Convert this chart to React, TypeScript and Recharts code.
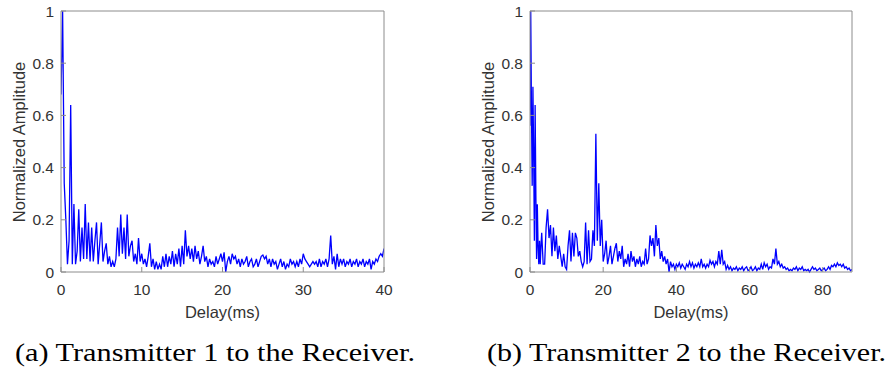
import { LineChart, Line, XAxis, YAxis } from "recharts";

// Panel (a): Transmitter 1, sampled every 0.2 ms from 0 to 40 ms
const stepA = 0.2;
const ampA = [
  0.68, 1.0, 0.34, 0.2, 0.03,
  0.12, 0.64, 0.03, 0.26, 0.03,
  0.08, 0.24, 0.04, 0.17, 0.05,
  0.26, 0.05, 0.19, 0.04, 0.17,
  0.04, 0.12, 0.19, 0.03, 0.11,
  0.19, 0.04, 0.08, 0.11, 0.03,
  0.06, 0.02, 0.04, 0.02, 0.05,
  0.17, 0.06, 0.22, 0.07, 0.17,
  0.05, 0.22, 0.06, 0.1, 0.12,
  0.04, 0.07, 0.03, 0.13, 0.04,
  0.07, 0.03, 0.05, 0.02, 0.06,
  0.11, 0.02, 0.05, 0.01, 0.04,
  0.01, 0.03, 0.01, 0.06, 0.02,
  0.07, 0.02, 0.06, 0.03, 0.08,
  0.02, 0.07, 0.03, 0.09, 0.02,
  0.1, 0.03, 0.16, 0.06, 0.1,
  0.05, 0.09, 0.04, 0.1, 0.05,
  0.08, 0.03, 0.06, 0.1, 0.04,
  0.06, 0.02, 0.05, 0.03, 0.04,
  0.02, 0.06, 0.03, 0.05, 0.07,
  0.04, 0.075, 0.0, 0.04, 0.06,
  0.03, 0.07, 0.05, 0.06, 0.03,
  0.05, 0.02, 0.05, 0.03, 0.04,
  0.06, 0.02, 0.04, 0.05, 0.02,
  0.03, 0.05, 0.02, 0.04, 0.06,
  0.065, 0.05, 0.06, 0.03, 0.05,
  0.02, 0.05, 0.03, 0.04, 0.01,
  0.03, 0.05, 0.02, 0.04, 0.01,
  0.03, 0.02, 0.05, 0.03, 0.04,
  0.02, 0.04, 0.02, 0.05, 0.03,
  0.07, 0.05, 0.04, 0.03, 0.02,
  0.03, 0.04, 0.03, 0.04, 0.02,
  0.05, 0.02, 0.04, 0.03, 0.05,
  0.02, 0.05, 0.14, 0.03, 0.06,
  0.01, 0.07, 0.02, 0.05, 0.03,
  0.05, 0.02, 0.04, 0.03, 0.05,
  0.02, 0.04, 0.03, 0.05, 0.02,
  0.04, 0.03, 0.05, 0.02, 0.04,
  0.03, 0.05, 0.01, 0.04, 0.03,
  0.05, 0.04, 0.06, 0.07, 0.06,
  0.09,
];

// Panel (b): Transmitter 2, fine head (0.2 ms) then 0.4 ms from 3.2 to 88 ms
const headStepB = 0.2;
const headB = [
  0.56, 1.0, 0.62, 0.33, 0.71, 0.45, 0.12, 0.64,
  0.3, 0.05, 0.26, 0.1, 0.03, 0.12, 0.03, 0.1,
];
const tailStartB = 3.2;
const tailStepB = 0.4;
const tailB = [
  0.15, 0.03, 0.03, 0.17, 0.24,
  0.13, 0.18, 0.06, 0.17, 0.08,
  0.14, 0.05, 0.1, 0.06, 0.02,
  0.07, 0.02, 0.01, 0.1, 0.16,
  0.04, 0.15, 0.06, 0.15, 0.13,
  0.06, 0.08, 0.04, 0.02, 0.04,
  0.19, 0.03, 0.16, 0.04, 0.05,
  0.16, 0.1, 0.53, 0.12, 0.34,
  0.1, 0.2, 0.04, 0.07, 0.12,
  0.03, 0.06, 0.1, 0.03, 0.06,
  0.09, 0.11, 0.04, 0.08, 0.05,
  0.1, 0.02, 0.05, 0.03, 0.07,
  0.02, 0.08, 0.04, 0.06, 0.02,
  0.05, 0.03, 0.06, 0.02, 0.04,
  0.03, 0.09, 0.03, 0.05, 0.14,
  0.1, 0.13, 0.06, 0.18, 0.1,
  0.13, 0.05, 0.08, 0.04, 0.06,
  0.03, 0.05, 0.0, 0.04, 0.02,
  0.03, 0.01, 0.03, 0.02, 0.035,
  0.015, 0.03, 0.02, 0.01, 0.03,
  0.02, 0.04, 0.02, 0.035, 0.015,
  0.03, 0.02, 0.035, 0.02, 0.05,
  0.02, 0.03, 0.015, 0.03, 0.02,
  0.045, 0.03, 0.04, 0.02, 0.04,
  0.03, 0.08, 0.03, 0.085, 0.03,
  0.04, 0.01, 0.025, 0.01, 0.02,
  0.005, 0.015, 0.01, 0.02, 0.005,
  0.015, 0.01, 0.02, 0.005, 0.015,
  0.02, 0.005, 0.01, 0.02, 0.005,
  0.01, 0.02, 0.005, 0.015, 0.01,
  0.03, 0.01, 0.035, 0.02, 0.03,
  0.01, 0.02, 0.015, 0.05, 0.03,
  0.09, 0.03, 0.04, 0.02, 0.03,
  0.015, 0.02, 0.01, 0.015, 0.005,
  0.01, 0.005, 0.015, 0.01, 0.02,
  0.005, 0.015, 0.01, 0.02, 0.005,
  0.01, 0.005, 0.01, 0.0, 0.01,
  0.02, 0.01, 0.015, 0.005, 0.01,
  0.015, 0.005, 0.01, 0.015, 0.005,
  0.01, 0.02, 0.01, 0.025, 0.02,
  0.03, 0.02, 0.035, 0.025, 0.03,
  0.02, 0.03, 0.015, 0.02, 0.01,
  0.015, 0.005, 0.01,
];

const ticksA = [0, 10, 20, 30, 40];
const ticksB = [0, 20, 40, 60, 80];
const ampTicks = [0, 0.2, 0.4, 0.6, 0.8, 1];

type Pt = { delay: number; amp: number };

function toSeries(amps: number[], start: number, step: number): Pt[] {
  return amps.map((amp, i) => ({
    delay: Math.round((start + i * step) * 1000) / 1000,
    amp,
  }));
}

const dataA = toSeries(ampA, 0, stepA);
const dataB = [
  ...toSeries(headB, 0, headStepB),
  ...toSeries(tailB, tailStartB, tailStepB),
];

const FRAME = "#8c8c8c";
const TEXT = "#333333";
const tickFont = { fill: TEXT, fontSize: 15.5, fontFamily: "'Liberation Sans', Arial, sans-serif" };

// plot box: top 11, bottom 272; left/right given per panel
function Panel({
  data,
  xMax,
  xTicks,
  plotLeft,
  plotRight,
}: {
  data: Pt[];
  xMax: number;
  xTicks: number[];
  plotLeft: number;
  plotRight: number;
}) {
  return (
    <LineChart
      width={445}
      height={300}
      data={data}
      margin={{ top: 10, right: 445 - plotRight - 1, bottom: 0, left: plotLeft - 40 }}
    >
      <XAxis
        xAxisId="bottom"
        dataKey="delay"
        type="number"
        domain={[0, xMax]}
        ticks={xTicks}
        height={28}
        tickSize={-5}
        tickMargin={17}
        tick={tickFont}
        stroke={FRAME}
        allowDataOverflow
      />
      <XAxis
        xAxisId="top"
        orientation="top"
        dataKey="delay"
        type="number"
        domain={[0, xMax]}
        ticks={xTicks}
        height={1}
        tickSize={-5}
        tick={false}
        stroke={FRAME}
        allowDataOverflow
      />
      <YAxis
        yAxisId="left"
        type="number"
        domain={[0, 1]}
        ticks={ampTicks}
        width={40}
        tickSize={-5}
        tickMargin={12}
        tick={tickFont}
        stroke={FRAME}
      />
      <YAxis
        yAxisId="right"
        orientation="right"
        type="number"
        domain={[0, 1]}
        ticks={ampTicks}
        width={1}
        tickSize={-5}
        tick={false}
        stroke={FRAME}
      />
      <Line
        xAxisId="bottom"
        yAxisId="left"
        type="linear"
        dataKey="amp"
        stroke="#0000ff"
        strokeWidth={1.3}
        dot={false}
        isAnimationActive={false}
      />
    </LineChart>
  );
}

export default function App() {
  const sans = "'Liberation Sans', Arial, sans-serif";
  const serif = "'Liberation Serif', 'Times New Roman', serif";
  return (
    <div
      style={{
        position: "fixed",
        left: 0,
        top: 0,
        width: 890,
        height: 368,
        background: "#fff",
      }}
    >
      <div style={{ position: "absolute", left: 0, top: 0 }}>
        <Panel data={dataA} xMax={40} xTicks={ticksA} plotLeft={61} plotRight={384} />
      </div>
      <div style={{ position: "absolute", left: 445, top: 0 }}>
        <Panel data={dataB} xMax={88} xTicks={ticksB} plotLeft={85} plotRight={407} />
      </div>
      <svg
        width={890}
        height={368}
        style={{ position: "absolute", left: 0, top: 0, pointerEvents: "none" }}
      >
        <g fill={TEXT} fontFamily={sans} fontSize={16.5}>
          <text transform="translate(19,142) rotate(-90)" textAnchor="middle" dominantBaseline="central">
            Normalized Amplitude
          </text>
          <text transform="translate(488,142) rotate(-90)" textAnchor="middle" dominantBaseline="central">
            Normalized Amplitude
          </text>
          <text x={222.5} y={312} textAnchor="middle" dominantBaseline="central">
            Delay(ms)
          </text>
          <text x={691} y={312} textAnchor="middle" dominantBaseline="central">
            Delay(ms)
          </text>
        </g>
        <g fill="#000" fontFamily={serif} fontSize={25}>
          <text x={15} y={361} textLength={400} lengthAdjust="spacingAndGlyphs">
            (a) Transmitter 1 to the Receiver.
          </text>
          <text x={487} y={361} textLength={399} lengthAdjust="spacingAndGlyphs">
            (b) Transmitter 2 to the Receiver.
          </text>
        </g>
      </svg>
    </div>
  );
}
